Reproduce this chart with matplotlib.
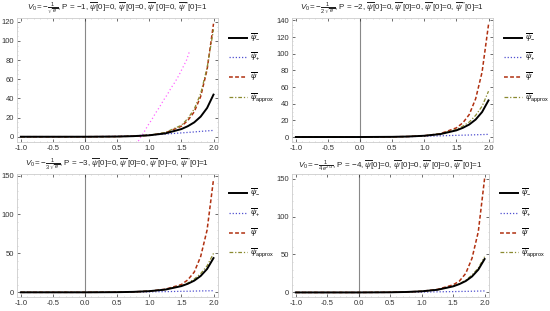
import matplotlib.pyplot as plt
import numpy as np

plt.rcParams['font.family'] = ['Liberation Sans', 'DejaVu Sans']
plt.rcParams['mathtext.fontset'] = 'custom'
plt.rcParams['mathtext.rm'] = 'Liberation Sans'
plt.rcParams['mathtext.it'] = 'Liberation Sans:italic'
plt.rcParams['mathtext.bf'] = 'Liberation Sans:bold'
plt.rcParams['mathtext.fallback'] = 'cm'
plt.rcParams['axes.unicode_minus'] = False

# x samples (same for all panels)
x = [-1.0, -0.5, 0.0, 0.5, 0.75, 1.0, 1.25, 1.5, 1.6, 1.7, 1.8, 1.9, 2.0]

# psi_minus (black solid), the same in all four panels
psi_minus = [0, 0, 0, 0.2, 0.6, 1.5, 3.5, 8, 11, 15, 21, 30, 44]

# psi_plus (blue dotted)
psi_plus_1 = [0, 0, 0, 0.4, 1.0, 1.8, 2.8, 4.0, 4.5, 5.0, 5.6, 6.1, 6.6]
psi_plus_2 = [0, 0, 0, 0.2, 0.5, 0.9, 1.4, 2.0, 2.2, 2.4, 2.7, 2.9, 3.2]
psi_plus_3 = [0, 0, 0, 0.1, 0.3, 0.6, 0.9, 1.3, 1.4, 1.6, 1.8, 1.9, 2.1]
psi_plus_4 = [0, 0, 0, 0.1, 0.3, 0.5, 0.8, 1.1, 1.3, 1.4, 1.6, 1.8, 2.0]

# psi (red dashed)
psi_1 = [0, 0, 0, 0.2, 0.6, 1.5, 4, 11, 17, 26, 42, 70, 118]
psi_2 = [0, 0, 0, 0.2, 0.6, 1.5, 4, 11, 17, 27, 46, 78, 135]
psi_3 = [0, 0, 0, 0.2, 0.6, 1.5, 4, 10, 16, 26, 46, 80, 145]
psi_4 = [0, 0, 0, 0.2, 0.6, 1.5, 4, 10, 15, 25, 45, 80, 150]

# psi_approx (olive dash-dot)
approx_1 = [0, 0, 0, 0.2, 0.6, 1.6, 4.5, 12, 19, 29, 45, 72, 112]
approx_2 = [0, 0, 0, 0.2, 0.6, 1.5, 3.8, 9, 13, 18, 26, 37, 55]
approx_3 = [0, 0, 0, 0.2, 0.6, 1.5, 3.7, 8.5, 12, 17, 24, 34, 50]
approx_4 = [0, 0, 0, 0.2, 0.6, 1.5, 3.6, 8.2, 11.5, 16, 23, 32, 47]

# stray magenta staircase in the first panel
stair_x = [0.80, 0.86, 0.92, 0.98, 1.04, 1.10, 1.16, 1.22, 1.28, 1.34, 1.40, 1.46, 1.52, 1.58, 1.63]
stair_y = [-8, -1, 5, 12, 18, 25, 31, 38, 44, 51, 57, 64, 72, 80, 90]

tail = r", P = $-${p}, $\overline{{\psi}}$[0]=0, $\overline{{\psi}}'$[0]=0, $\overline{{\psi}}''$[0]=0, $\overline{{\psi}}'''$[0]=1"
v0s = [r"$V_0=-\frac{1}{\sqrt{e}}$", r"$V_0=-\frac{1}{2\,\sqrt{e}}$",
       r"$V_0=-\frac{1}{3\,\sqrt{e}}$", r"$V_0=-\frac{1}{4\,e^{2/3}}$"]
titles = [v0s[k] + tail.format(p=k + 1) for k in range(4)]

plus_list = [psi_plus_1, psi_plus_2, psi_plus_3, psi_plus_4]
psi_list = [psi_1, psi_2, psi_3, psi_4]
approx_list = [approx_1, approx_2, approx_3, approx_4]
ylims = [(-5.5, 124), (-6, 143), (-6, 152), (-6, 156)]
yticks = [range(0, 121, 20), range(0, 141, 20), range(0, 151, 50), range(0, 151, 50)]

labels = [r'$\overline{\psi}_{-}$', r'$\overline{\psi}_{+}$', r'$\overline{\psi}$',
          r'$\overline{\psi}_{\mathrm{approx}}$']

# axes rectangles in figure fractions [left, bottom, width, height]
W, H = 550.0, 311.0
rects = [
    [17 / W, 1 - 142 / H, 201 / W, 124 / H],
    [292 / W, 1 - 142 / H, 201 / W, 124 / H],
    [17 / W, 1 - 297 / H, 201 / W, 123 / H],
    [292 / W, 1 - 297 / H, 197 / W, 123 / H],
]

fig = plt.figure(figsize=(5.5, 3.11), dpi=100)
for i in range(4):
    ax = fig.add_axes(rects[i])
    ax.axvline(0, color='#888888', lw=0.8, zorder=1)
    l1, = ax.plot(x, psi_minus, color='black', lw=1.4, zorder=4)
    l2, = ax.plot(x, plus_list[i], color='#5050d0', lw=0.9, ls=(0, (1, 1.5)), zorder=3)
    l3, = ax.plot(x, psi_list[i], color='#b03010', lw=1.1, ls=(0, (2.5, 1.5)), zorder=3)
    l4, = ax.plot(x, approx_list[i], color='#8a8a30', lw=0.9, ls=(0, (3, 1.5, 1, 1.5)), zorder=3)
    if i == 0:
        ax.plot(stair_x, stair_y, color='#ff66ff', lw=0.9, ls=(0, (1, 2)), zorder=2)
    ax.set_xlim(-1.06, 2.07)
    ax.set_ylim(*ylims[i])
    ax.set_xticks(np.arange(-1.0, 2.01, 0.5))
    ax.set_yticks(list(yticks[i]))
    ax.set_xticklabels(['-1.0', '-0.5', '0.0', '0.5', '1.0', '1.5', '2.0'])
    ax.tick_params(labelsize=5.5, colors='#333333', length=2, width=0.5, direction='in',
                   top=True, right=True, pad=2)
    ax.minorticks_on()
    ax.tick_params(which='minor', length=1, width=0.4, direction='in', top=True, right=True,
                   color='#bbbbbb')
    for s in ax.spines.values():
        s.set_color('#cccccc')
        s.set_linewidth(0.6)
    ax.set_title(titles[i], fontsize=5.8, pad=2, color='#222222')
    ax.legend([l1, l2, l3, l4], labels, loc='center left', bbox_to_anchor=(1.04, 0.6),
              frameon=False, fontsize=5.5, handlelength=2.4, labelspacing=1.0,
              handletextpad=0.4, borderaxespad=0)

plt.savefig('out.png', dpi=100)
